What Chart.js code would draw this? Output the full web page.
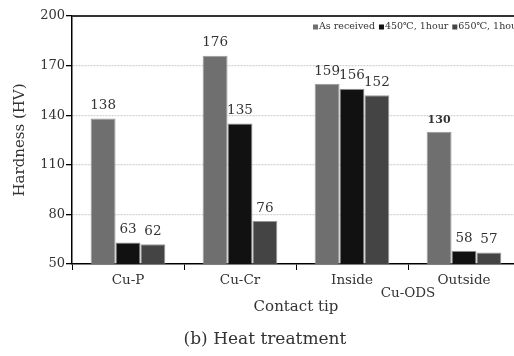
<!DOCTYPE html>
<html><head><meta charset="utf-8">
<script src="https://cdn.jsdelivr.net/npm/chart.js@4/dist/chart.umd.min.js"></script>
<style>
html,body{margin:0;padding:0;background:#fff;overflow:hidden;width:514px;height:356px;}
#wrap{position:relative;width:514px;height:356px;overflow:hidden;}
canvas{position:absolute;left:0;top:0;}
#cap{position:absolute;left:0;width:530px;top:328px;text-align:center;font:17px 'DejaVu Serif',serif;color:#333;}
</style></head>
<body><div id="wrap"><canvas id="c" width="522" height="356"></canvas><div id="cap">(b) Heat treatment</div></div>
<script>
const categories = ['Cu-P', 'Cu-Cr', 'Inside', 'Outside'];
const seriesNames = ['As received', '450\u2103, 1hour', '650\u2103, 1hour'];
const asReceived = [138, 176, 159, 130];
const heat450 = [63, 135, 156, 58];
const heat650 = [62, 76, 152, 57];
const yTickValues = [50, 80, 110, 140, 170, 200];
const groupLabel = 'Cu-ODS';

const FONT = "'DejaVu Serif', 'Noto Sans CJK KR', serif";
const colors = ['#6f6f6f', '#111111', '#444444'];

const overlay = {
  id: 'overlay',
  afterDatasetsDraw(chart) {
    const ctx = chart.ctx, ca = chart.chartArea;
    ctx.save();
    ctx.strokeStyle = '#333'; ctx.lineWidth = 2;
    ctx.beginPath(); ctx.moveTo(ca.left, ca.top); ctx.lineTo(ca.right + 5, ca.top); ctx.stroke();
    chart.data.datasets.forEach((ds, di) => {
      const meta = chart.getDatasetMeta(di);
      meta.data.forEach((bar, i) => {
        const v = ds.data[i];
        const bold = (di === 0 && i === 3);
        ctx.font = (bold ? 'bold 11px ' : '13.5px ') + FONT;
        ctx.fillStyle = '#333';
        ctx.textAlign = 'center'; ctx.textBaseline = 'bottom';
        ctx.fillText(String(v), bar.x, bar.y - 6);
      });
    });
    const xs = chart.scales.x;
    const gx = (xs.getPixelForValue(2) + xs.getPixelForValue(3)) / 2;
    ctx.font = '13.5px ' + FONT; ctx.fillStyle = '#333';
    ctx.textAlign = 'center'; ctx.textBaseline = 'middle';
    ctx.fillText(groupLabel, gx, 293);
    ctx.font = '9.5px ' + FONT; ctx.textBaseline = 'middle'; ctx.textAlign = 'left';
    let lx = 313; const ly = 27;
    seriesNames.forEach((n, k) => {
      ctx.fillStyle = colors[k];
      ctx.fillRect(lx, ly - 2.5, 5, 5);
      ctx.fillStyle = '#333';
      ctx.fillText(n, lx + 6, ly);
      lx += 6 + ctx.measureText(n).width + 4;
    });
    ctx.restore();
  }
};

new Chart(document.getElementById('c'), {
  type: 'bar',
  data: {
    labels: categories,
    datasets: [asReceived, heat450, heat650].map((d, k) => ({
      label: seriesNames[k], data: d,
      backgroundColor: colors[k], borderColor: '#999', borderWidth: 1,
      categoryPercentage: 0.667, barPercentage: 1.0
    }))
  },
  options: {
    responsive: false, animation: false,
    layout: { padding: { top: 16, right: 2, left: 0, bottom: 0 } },
    plugins: { legend: { display: false }, tooltip: { enabled: false } },
    scales: {
      x: {
        afterFit(s) { s.height = 92; },
        grid: { offset: true, drawOnChartArea: false, drawTicks: true, tickLength: 6, tickColor: '#000', color: '#000' },
        border: { display: true, color: '#000', width: 1.5 },
        ticks: { font: { family: FONT, size: 13.5 }, color: '#333', padding: 2 },
        title: { display: true, text: 'Contact tip', font: { family: FONT, size: 15 }, color: '#333', padding: { top: 0, bottom: 40 } }
      },
      y: {
        min: 50, max: 200,
        afterFit(s) { s.width = 72; },
        afterBuildTicks(s) { s.ticks = yTickValues.map(v => ({ value: v })); },
        grid: {
          color: (c) => (c.tick && (c.tick.value === 50 || c.tick.value === 200)) ? 'rgba(0,0,0,0)' : '#d2d2d2',
          tickColor: '#000', tickLength: 6, lineWidth: 1.3
        },
        border: { display: true, color: '#000', width: 1.5, dash: [2, 1] },
        ticks: { font: { family: FONT, size: 13 }, color: '#333', padding: 1 },
        title: { display: true, text: 'Hardness (HV)', font: { family: FONT, size: 15 }, color: '#333', padding: { top: 11, bottom: 0 } }
      }
    }
  },
  plugins: [overlay]
});
</script></body></html>
